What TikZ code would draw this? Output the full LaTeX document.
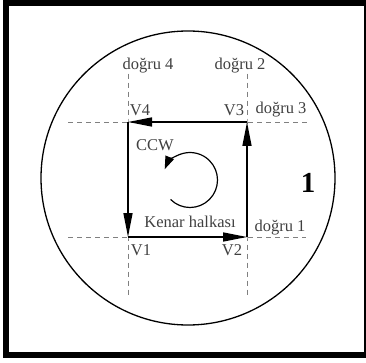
\documentclass[tikz,border=0pt]{standalone}
\usepackage{fontspec}
\setmainfont{Liberation Serif}
\usetikzlibrary{arrows.meta}

\begin{document}
\begin{tikzpicture}[x=1pt, y=-1pt,
  guide/.style={black!50, dash pattern=on 5pt off 4pt, line width=0.8pt},
  edge/.style={line width=1.4pt, -{Triangle[length=24pt,width=9pt]}},
  lbl/.style={text=black!75, inner sep=0pt, font=\fontsize{16.5}{18}\selectfont}]
  \useasboundingbox (0,0) rectangle (366,363);
  % frame
  \fill[black] (3,0) rectangle (366,358);
  \fill[white] (9,6) rectangle (364,352);
  % face 1
  \draw[line width=1.3pt] (188,178) circle[radius=147];
  \node[inner sep=0pt, font=\fontsize{29}{30}\selectfont\bfseries] (face) at (308,183) {1};
  % vertices
  \coordinate (v1) at (128,237);
  \coordinate (v2) at (247,237);
  \coordinate (v3) at (247,122);
  \coordinate (v4) at (128,122);
  % labels
  \node[lbl] (d4) at (148,66) {doğru 4};
  \node[lbl] (d2) at (240,66) {doğru 2};
  \node[lbl] (d3) at (281,110) {doğru 3};
  \node[lbl] (d1) at (280,228) {doğru 1};
  \node[lbl] (lv4) at (140,110) {V4};
  \node[lbl] (lv3) at (234,110) {V3};
  \node[lbl] (lv1) at (141,250) {V1};
  \node[lbl] (lv2) at (232,250) {V2};
  \node[lbl] (ccw) at (155,145) {CCW};
  \node[lbl] (loop) at (190,222) {Kenar halkası};
  % lines
  \draw[guide] (d4.south -| v4) -- (v4) -- (v1) -- ++(0,60);
  \draw[guide] (d2.south -| v3) -- (v3) -- (v2) -- ++(0,60);
  \draw[guide] (v4) ++(-60,0) -- (v3) -- (d3.east |- v3);
  \draw[guide] (v1) ++(-60,0) -- (v2) -- (d1.east |- v2);
  % edge loop
  \draw[edge] (v1) -- (v2);
  \draw[edge] (v2) -- (v3);
  \draw[edge] (v3) -- (v4);
  \draw[edge] (v4) -- (v1);
  % orientation
  \coordinate (spin) at (190,180);
  \draw[line width=1.2pt, -{Triangle[length=13pt,width=9pt]}]
    (spin) ++(135:27.5) arc[start angle=135, end angle=-157, radius=27.5];
\end{tikzpicture}
\end{document}
